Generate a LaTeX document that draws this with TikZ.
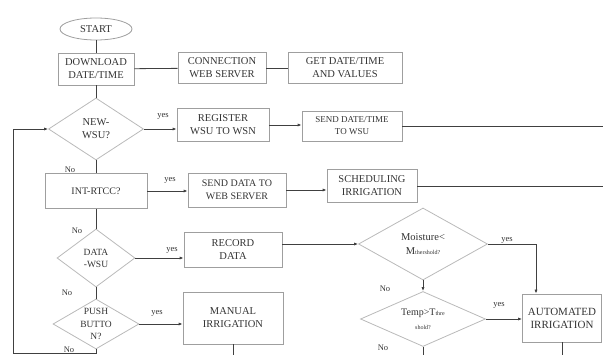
\documentclass[tikz,border=0pt]{standalone}
\usepackage{fontspec}
\setmainfont{Liberation Serif}
\usetikzlibrary{arrows.meta,shapes.geometric}

\begin{document}
\begin{tikzpicture}[
    x=1pt, y=-1pt,
    every node/.style={font=\fontsize{10.5}{13}\selectfont, text=black!80},
    box/.style={draw=gray!75, line width=0.8pt, align=center, inner sep=1pt},
    decision/.style={diamond, draw=gray!55, line width=0.8pt, align=center, inner sep=-15pt},
    terminal/.style={ellipse, draw=gray!75, line width=0.8pt, inner sep=0pt},
    lbl/.style={font=\fontsize{8.5}{10}\selectfont, inner sep=0pt},
    tiny sub/.style={font=\fontsize{6}{7}\selectfont},
    link/.style={draw=black!75, line width=0.8pt},
    flow/.style={link, -{Latex[length=4pt, width=3.2pt]}}
  ]
    \useasboundingbox (0,0) rectangle (603,355);

    \node[terminal, minimum width=72pt, minimum height=22pt] (start) at (96,29) {START};
    \node[box, minimum width=76pt, minimum height=32pt] (download) at (96,69) {DOWNLOAD\\DATE/TIME};
    \node[box, minimum width=88pt, minimum height=31pt] (connection) at (222,68) {CONNECTION\\WEB SERVER};
    \node[box, minimum width=114pt, minimum height=31pt] (getdate) at (345,68) {GET DATE/TIME\\AND VALUES};

    \node[decision, minimum width=95pt, minimum height=62pt] (newwsu) at (96,129) {NEW-\\WSU?};
    \node[box, minimum width=92pt, minimum height=33pt] (register) at (223,125) {REGISTER\\WSU TO WSN};
    \node[box, minimum width=100pt, minimum height=30pt, font=\fontsize{9}{12}\selectfont] (senddate) at (352,126) {SEND DATE/TIME\\TO WSU};
    \coordinate (senddateout) at (603,126);

    \node[box, minimum width=102pt, minimum height=35pt, font=\fontsize{10}{12}\selectfont] (intrtcc) at (96,191) {INT-RTCC?};
    \node[box, minimum width=98pt, minimum height=34pt, font=\fontsize{10}{13}\selectfont] (senddata) at (237,190) {SEND DATA TO\\WEB SERVER};
    \node[box, minimum width=90pt, minimum height=33pt] (scheduling) at (372,186) {SCHEDULING\\IRRIGATION};
    \coordinate (schedout) at (603,186);

    \node[decision, minimum width=78pt, minimum height=58pt, font=\fontsize{9.5}{12}\selectfont] (datawsu) at (96,258) {DATA\\-WSU};
    \node[box, minimum width=98pt, minimum height=35pt] (record) at (233,250) {RECORD\\DATA};
    \node[decision, minimum width=129pt, minimum height=72pt, font=\fontsize{10.5}{14}\selectfont] (moisture) at (423,244) {Moisture<\\M{\fontsize{6}{7}\selectfont thershold?}};
    \coordinate (mbend) at (536,244);

    \node[decision, minimum width=86pt, minimum height=50pt, font=\fontsize{9.5}{12.5}\selectfont] (pushbtn) at (96,324) {PUSH\\BUTTO\\N?};
    \node[box, minimum width=100pt, minimum height=52pt] (manual) at (233,318) {MANUAL\\IRRIGATION};
    \node[decision, minimum width=125pt, minimum height=55pt, font=\fontsize{10}{14}\selectfont] (temp) at (423,319) {Temp>T{\fontsize{6}{7}\selectfont thre}\\{\fontsize{6}{7}\selectfont shold?}};
    \node[box, minimum width=79pt, minimum height=48pt, font=\fontsize{11}{13}\selectfont] (auto) at (562,318) {AUTOMATED\\IRRIGATION};

    \coordinate (manualout) at (233,355);
    \coordinate (tempout) at (423,355);
    \coordinate (autoout) at (562,355);
    \coordinate (loopbot) at (96,353);
    \coordinate (loopcorner) at (13,353);

    % branch labels
    \node[lbl] (yes1) at (163,116) {yes};
    \node[lbl] (yes2) at (170,180) {yes};
    \node[lbl] (yes3) at (172,250) {yes};
    \node[lbl] (yes4) at (157,313) {yes};
    \node[lbl] (yes5) at (507,240) {yes};
    \node[lbl] (yes6) at (499,305) {yes};
    \node[lbl] (no1) at (70,170) {No};
    \node[lbl] (no2) at (77,231) {No};
    \node[lbl] (no3) at (67,293) {No};
    \node[lbl] (no4) at (69,350) {No};
    \node[lbl] (no5) at (385,289) {No};
    \node[lbl] (no6) at (383,348) {No};

    \draw[link] (start) -- (download);
    \draw[link] (download) -- (connection);
    \draw[link] (connection) -- (getdate);
    \draw[link] (download) -- (newwsu);
    \draw[flow] (newwsu.east) -- (newwsu.east -| register.west);
    \draw[flow] (register.east) -- (register.east -| senddate.west);
    \draw[link] (senddate.east) -- (senddateout);
    \draw[link] (newwsu) -- (intrtcc);
    \draw[flow] (intrtcc.east) -- (intrtcc.east -| senddata.west);
    \draw[flow] (senddata.east) -- (senddata.east -| scheduling.west);
    \draw[link] (scheduling.east) -- (schedout);
    \draw[link] (intrtcc) -- (datawsu);
    \draw[flow] (datawsu.east) -- (datawsu.east -| record.west);
    \draw[flow] (record.east |- moisture.west) -- (moisture.west);
    \draw[flow] (moisture.east) -- (mbend) -- (mbend |- auto.north);
    \draw[flow] (moisture) -- (temp);
    \draw[flow] (temp.east) -- (temp.east -| auto.west);
    \draw[link] (temp) -- (tempout);
    \draw[link] (auto) -- (autoout);
    \draw[link] (datawsu) -- (pushbtn);
    \draw[flow] (pushbtn.east) -- (pushbtn.east -| manual.west);
    \draw[link] (manual) -- (manualout);
    \draw[flow] (pushbtn) -- (loopbot) -- (loopcorner) |- (newwsu.west);
  \end{tikzpicture}
\end{document}
